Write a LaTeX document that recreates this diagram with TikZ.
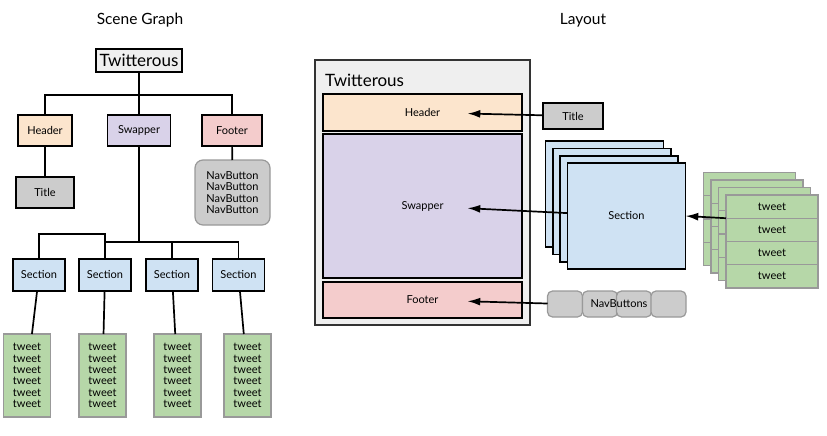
\documentclass[tikz,border=0pt]{standalone}
\usepackage{fontspec}
\setmainfont{Lato}
\usetikzlibrary{positioning,arrows.meta,calc}
\definecolor{twgray}{HTML}{EFEFEF}
\definecolor{hdorange}{HTML}{FCE5CD}
\definecolor{swpurple}{HTML}{D9D2E9}
\definecolor{ftred}{HTML}{F4CCCC}
\definecolor{tigray}{HTML}{CCCCCC}
\definecolor{secblue}{HTML}{CFE2F3}
\definecolor{twgreen}{HTML}{B6D7A8}
\definecolor{rimgray}{HTML}{999999}

\begin{document}
\begin{tikzpicture}[x=1pt, y=-1pt, line width=1.7pt, font=\fontsize{11}{11.3}\selectfont,
  box/.style={draw, inner sep=0pt, outer sep=0pt, align=center},
  big/.style={font=\fontsize{15.5}{17}\selectfont},
  bigger/.style={font=\fontsize{17}{19}\selectfont},
  soft/.style={draw=rimgray, line width=1.2pt, fill=#1},
  arr/.style={-{Latex[length=4.5mm,width=2.8mm]}, shorten >=45pt}]
  \useasboundingbox (0,0) rectangle (827,436);
  % titles
  \node[big] (sg) at (140,20) {Scene Graph};
  \node[big] (lt) at (583,20) {Layout};

  % scene graph
  \node[box, bigger, fill=twgray, minimum width=86pt, minimum height=23pt] (root) at (139,60.5) {Twitterous};
  \foreach \x/\w/\name/\col in {45/54/Header/hdorange,139/63/Swapper/swpurple,232/60/Footer/ftred}
    \node[box, fill=\col, minimum width=\w pt, minimum height=31pt] (g\name) at (\x,130.5) {\name};
  \node[box, fill=tigray, minimum width=58pt, minimum height=31pt] (gTitle) at (45,192.5) {Title};
  \node[box, soft=tigray, rounded corners=8pt, minimum width=75pt, minimum height=65pt] (gNav) at (232.5,192.5) {NavButton\\NavButton\\NavButton\\NavButton};
  \coordinate (top) at (139,95);
  \draw (root) -- (top) (top) -| (gHeader) (top) -| (gFooter) (top) -- (gSwapper);
  \draw (gHeader) -- (gTitle) (gFooter) -- (gNav);

  \foreach \i/\x/\tx in {1/39/27,2/105/102.5,3/172/177.5,4/238.5/247.5}{
    \node[box, fill=secblue, minimum width=52pt, minimum height=32pt] (s\i) at (\x,275) {Section};
    \node[box, soft=twgreen, minimum width=47pt, minimum height=83pt] (t\i) at (\tx,375.5) {tweet\\tweet\\tweet\\tweet\\tweet\\tweet};
    \draw (s\i) -- (t\i);
  }
  \coordinate (mid) at (139,242);
  \coordinate (kink) at (105,234);
  \draw (gSwapper) -- (mid);
  \draw (mid) -| (s2) (mid) -| (s3) (mid) -| (s4);
  \draw (s1) |- (kink) -- (s2);

  % layout
  \node[box, fill=twgray, draw=black!80, line width=1.2pt, minimum width=215pt, minimum height=265pt] (lay) at (422.5,192.5) {};
  \node[bigger, anchor=west] (layname) at (321,80) {Twitterous};
  \foreach \y/\h/\name/\col in {112.5/37/Header/hdorange,206/144/Swapper/swpurple,300/36/Footer/ftred}
    \node[box, fill=\col, minimum width=199pt, minimum height=\h pt] (l\name) at (422.5,\y) {\name};
  \node[box, fill=tigray, minimum width=60pt, minimum height=26pt] (lTitle) at (573,116) {Title};
  % stacked sections
  \foreach \i in {3,2,1,0}
    \node[box, fill=secblue, minimum width=118pt, minimum height=106pt] (sec\i) at (626.5-7.3*\i, 216-7.3*\i) {\ifnum\i=0 Section\fi};
  % stacked tweets
  \foreach \l in {3,2,1,0}
    \foreach \r in {0,...,3}
      \node[box, soft=twgreen, minimum width=92pt, minimum height=23.25pt] (tw\l\r) at (772-7.5*\l, 206.6+23.25*\r-7.5*\l) {\ifnum\l=0 tweet\fi};
  % nav buttons
  \foreach \i/\x in {1/565,2/600,3/634,4/668.5}
    \node[box, soft=tigray, rounded corners=5pt, minimum width=35pt, minimum height=26pt] (nav\i) at (\x,304) {};
  \node (navtxt) at (619,304) {NavButtons};

  \draw[arr] (lTitle) -- (lHeader.center);
  \draw[arr] (sec0) -- (lSwapper.center);
  \draw[arr] (nav1) -- (lFooter.center);
  \draw[arr, shorten >=0pt] (tw00.south west) -- (sec0.east);
\end{tikzpicture}
\end{document}
